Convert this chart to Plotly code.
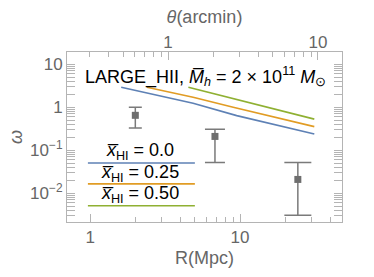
import numpy as np
import plotly.graph_objects as go

# ---- data ----
R_obs = [2.0, 6.8, 24.3]
w_obs = [0.65, 0.21, 0.021]
w_hi = [1.0, 0.31, 0.052]
w_lo = [0.33, 0.052, 0.0031]

blue_R = [1.61, 4.86, 9.5, 31.3]
blue_w = [2.92, 1.24, 0.64, 0.24]
orange_R = [2.39, 4.86, 9.0, 31.3]
orange_w = [2.92, 1.71, 1.0, 0.355]
green_R = [4.52, 5.55, 31.3]
green_w = [2.92, 2.43, 0.53]

labels = ["0.0", "0.25", "0.50"]
colors = ["#5E81B5", "#E19C24", "#8FB032"]

R_range = [0.70, 47.9]
theta_per_R = 1 / 3.31   # arcmin per Mpc
y_range = [0.00215, 19.3]

GRAY = "#666666"
FRAME = "#b4b4b4"
FONT = "Liberation Sans"

fig = go.Figure()

for R, w, c in [(blue_R, blue_w, colors[0]), (orange_R, orange_w, colors[1]),
                (green_R, green_w, colors[2])]:
    fig.add_trace(go.Scatter(x=R, y=w, mode="lines", line=dict(color=c, width=1.6),
                             showlegend=False, hoverinfo="skip"))

cap_w = [6.5, 10, 13.5]
for i in range(len(R_obs)):
    fig.add_trace(go.Scatter(
        x=[R_obs[i]], y=[w_obs[i]], mode="markers",
        marker=dict(symbol="square", size=7, color="#6e6e6e"),
        error_y=dict(type="data", symmetric=False,
                     array=[w_hi[i] - w_obs[i]], arrayminus=[w_obs[i] - w_lo[i]],
                     color="#7a7a7a", thickness=1.5, width=cap_w[i]),
        showlegend=False))

# invisible trace to activate top axis
fig.add_trace(go.Scatter(x=[R_range[0] * theta_per_R], y=[y_range[0]], xaxis="x2",
                         mode="markers", marker=dict(opacity=0), showlegend=False,
                         hoverinfo="skip"))

def minors(decades, lo, hi):
    out = []
    for d in decades:
        for k in range(2, 10):
            v = k * 10.0 ** d
            if lo < v < hi:
                out.append(v)
    return out

tickfont = dict(family=FONT, size=17, color=GRAY)
titlefont = dict(family=FONT, size=18, color=GRAY)

fig.update_layout(
    width=374, height=277,
    margin=dict(l=67, r=32, t=52, b=55, autoexpand=False),
    plot_bgcolor="white", paper_bgcolor="white",
    xaxis=dict(type="log", range=[np.log10(R_range[0]), np.log10(R_range[1])],
               tickvals=[1, 10], ticktext=["1", "10"], ticks="inside", ticklen=8,
               tickcolor=FRAME, tickwidth=1,
               minor=dict(tickvals=minors([0, 1], *R_range), ticks="inside",
                          ticklen=5, tickcolor=FRAME, showgrid=False),
               showline=True, linecolor=FRAME, mirror=True, showgrid=False,
               zeroline=False, tickfont=tickfont,
               title=dict(text="R(Mpc)", font=titlefont, standoff=4)),
    xaxis2=dict(type="log", overlaying="x", side="top",
                range=[np.log10(R_range[0] * theta_per_R), np.log10(R_range[1] * theta_per_R)],
                tickvals=[1, 10], ticktext=["1", "10"], ticks="inside", ticklen=8,
                tickcolor=FRAME,
                minor=dict(tickvals=minors([-1, 0], R_range[0] * theta_per_R,
                                           R_range[1] * theta_per_R),
                           ticks="inside", ticklen=5, tickcolor=FRAME, showgrid=False),
                showgrid=False, zeroline=False, tickfont=tickfont,
                title=dict(text="<i>θ</i>(arcmin)", font=titlefont, standoff=4)),
    yaxis=dict(type="log", range=[np.log10(y_range[0]), np.log10(y_range[1])],
               tickvals=[0.01, 0.1, 1, 10],
               ticktext=["10<sup>−2</sup>", "10<sup>−1</sup>", "1", "10"],
               ticks="inside", ticklen=8, tickcolor=FRAME,
               minor=dict(tickvals=minors([-3, -2, -1, 0], *y_range), ticks="inside",
                          ticklen=5, tickcolor=FRAME, showgrid=False),
               showline=True, linecolor=FRAME, mirror="allticks", showgrid=False,
               zeroline=False, tickfont=tickfont,
               title=dict(text="<i>ω</i>", font=titlefont, standoff=2)),
)

# main label
fig.add_annotation(xref="paper", yref="paper", x=0.504, y=0.855, showarrow=False,
                   xanchor="center", yanchor="middle",
                   text="LARGE_HII, <i>M̅</i><sub><i>h</i></sub> = 2 × 10<sup>11</sup> <i>M</i><sub>⊙</sub>",
                   font=dict(family=FONT, size=18, color="black"))

# legend
leg_text_y = [0.414, 0.286, 0.159]
leg_line_y = [0.347, 0.224, 0.096]
for lab, c, ty, ly in zip(labels, colors, leg_text_y, leg_line_y):
    fig.add_annotation(xref="paper", yref="paper", x=0.265, y=ty, showarrow=False,
                       xanchor="center", yanchor="middle",
                       text=f"<i>x̅</i><sub>HI</sub> = {lab}",
                       font=dict(family=FONT, size=18, color="black"))
    fig.add_shape(type="line", xref="paper", yref="paper", x0=0.076, x1=0.465,
                  y0=ly, y1=ly, line=dict(color=c, width=1.6))

fig.write_html("out.html", config={"displayModeBar": False},
               post_script="document.body.style.margin='0';")
